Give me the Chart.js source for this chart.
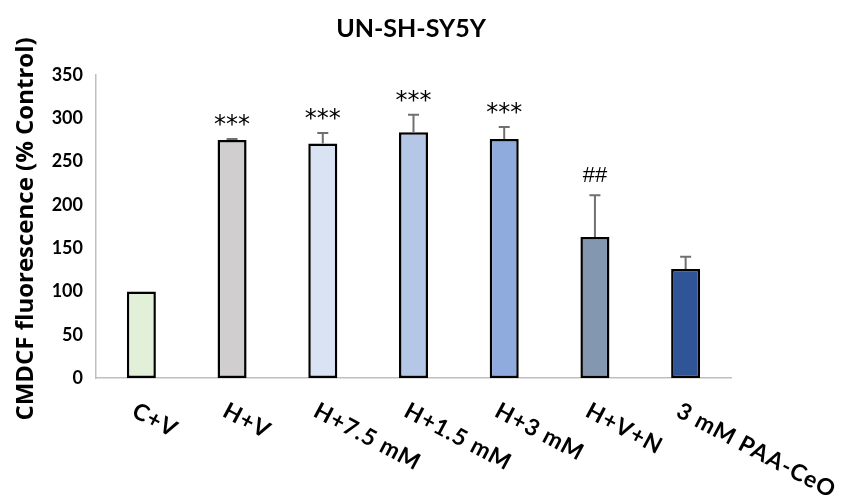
<!DOCTYPE html>
<html>
<head>
<meta charset="utf-8">
<script src="https://cdn.jsdelivr.net/npm/chart.js@4.4.1/dist/chart.umd.min.js"></script>
<style>
  html, body { margin: 0; padding: 0; background: #ffffff; }
  #wrap { width: 843px; height: 496px; position: relative; }
</style>
</head>
<body>
<div id="wrap"><canvas id="chart" width="843" height="496"></canvas></div>
<script>
// Groups and measured CMDCF fluorescence (% of control), mean and SD
const groups = ['C+V', 'H+V', 'H+7.5 mM', 'H+1.5 mM', 'H+3 mM', 'H+V+N', '3 mM PAA-CeO'];
const means = [100, 275, 271, 284, 276, 163, 126];
const errors = [0, 1, 12, 20, 14, 48, 14];
const significance = ['', '***', '***', '***', '***', '##', ''];
const barColors = ['#E2F0D9', '#D0CECE', '#DAE3F3', '#B4C7E7', '#8FAADC', '#8497B0', '#2F5597'];
const yTicks = [0, 50, 100, 150, 200, 250, 300, 350];

const chartTitle = 'UN-SH-SY5Y';
const yTitle = 'CMDCF fluorescence (% Control)';

// Error bars, significance marks, rotated category labels and titles
const decorations = {
  id: 'decorations',
  afterDatasetsDraw(chart) {
    const ctx = chart.ctx;
    const y = chart.scales.y;
    const x = chart.scales.x;
    const meta = chart.getDatasetMeta(0);
    const area = chart.chartArea;

    ctx.save();
    // error bars (upper only)
    ctx.strokeStyle = '#707070';
    ctx.lineWidth = 2;
    meta.data.forEach((bar, i) => {
      if (!errors[i]) return;
      const top = y.getPixelForValue(means[i]);
      const cap = y.getPixelForValue(means[i] + errors[i]);
      ctx.beginPath();
      ctx.moveTo(bar.x, top);
      ctx.lineTo(bar.x, cap);
      ctx.moveTo(bar.x - 5.5, cap);
      ctx.lineTo(bar.x + 5.5, cap);
      ctx.stroke();
    });

    // significance marks above the error bars
    ctx.fillStyle = '#000000';
    ctx.textAlign = 'center';
    ctx.textBaseline = 'alphabetic';
    meta.data.forEach((bar, i) => {
      const mark = significance[i];
      if (!mark) return;
      ctx.font = mark.includes('*') ? '24px "DejaVu Sans"' : '22px "Liberation Sans"';
      const m = ctx.measureText(mark);
      const cap = y.getPixelForValue(means[i] + errors[i]);
      const glyphBottom = cap - 13;
      ctx.fillText(mark, bar.x, glyphBottom - m.actualBoundingBoxDescent);
    });

    // category labels, rotated clockwise from each tick
    ctx.font = 'bold 23px Lato';
    ctx.letterSpacing = '1px';
    ctx.textAlign = 'left';
    ctx.textBaseline = 'top';
    groups.forEach((g, i) => {
      const px = x.getPixelForValue(i);
      ctx.save();
      ctx.translate(px - 2, area.bottom + 21);
      ctx.rotate(28 * Math.PI / 180);
      ctx.fillText(g, 0, 0);
      ctx.restore();
    });
    ctx.letterSpacing = '0px';

    // chart title
    ctx.font = 'bold 25px Lato';
    ctx.textAlign = 'center';
    ctx.textBaseline = 'alphabetic';
    ctx.fillText(chartTitle, 411, 37);

    // y axis title
    ctx.save();
    ctx.translate(33, 229);
    ctx.rotate(-Math.PI / 2);
    ctx.font = 'bold 24px "Open Sans"';
    ctx.textAlign = 'center';
    ctx.textBaseline = 'alphabetic';
    ctx.fillText(yTitle, 0, 0);
    ctx.restore();

    ctx.restore();
  }
};

new Chart(document.getElementById('chart'), {
  type: 'bar',
  data: {
    labels: groups,
    datasets: [{
      data: means,
      backgroundColor: barColors,
      borderColor: '#000000',
      borderWidth: 2.5,
      borderSkipped: false,
      barPercentage: 0.32,
      categoryPercentage: 1.0
    }]
  },
  options: {
    responsive: false,
    animation: false,
    devicePixelRatio: 1,
    layout: { padding: { top: 75, right: 112, bottom: 118, left: 0 } },
    plugins: {
      legend: { display: false },
      tooltip: { enabled: false },
      title: { display: false }
    },
    scales: {
      x: {
        grid: { display: false, drawTicks: false },
        border: { display: true, color: '#BFBFBF', width: 1.5 },
        ticks: { display: false }
      },
      y: {
        min: 0,
        max: 350,
        afterFit(scale) { scale.width = 96; },
        afterBuildTicks(scale) { scale.ticks = yTicks.map(v => ({ value: v })); },
        grid: { display: false, drawTicks: false },
        border: { display: true, color: '#BFBFBF', width: 1.5 },
        ticks: {
          padding: 13,
          color: '#000000',
          font: { family: 'Lato', weight: 'bold', size: 18 }
        }
      }
    }
  },
  plugins: [decorations]
});
</script>
</body>
</html>
